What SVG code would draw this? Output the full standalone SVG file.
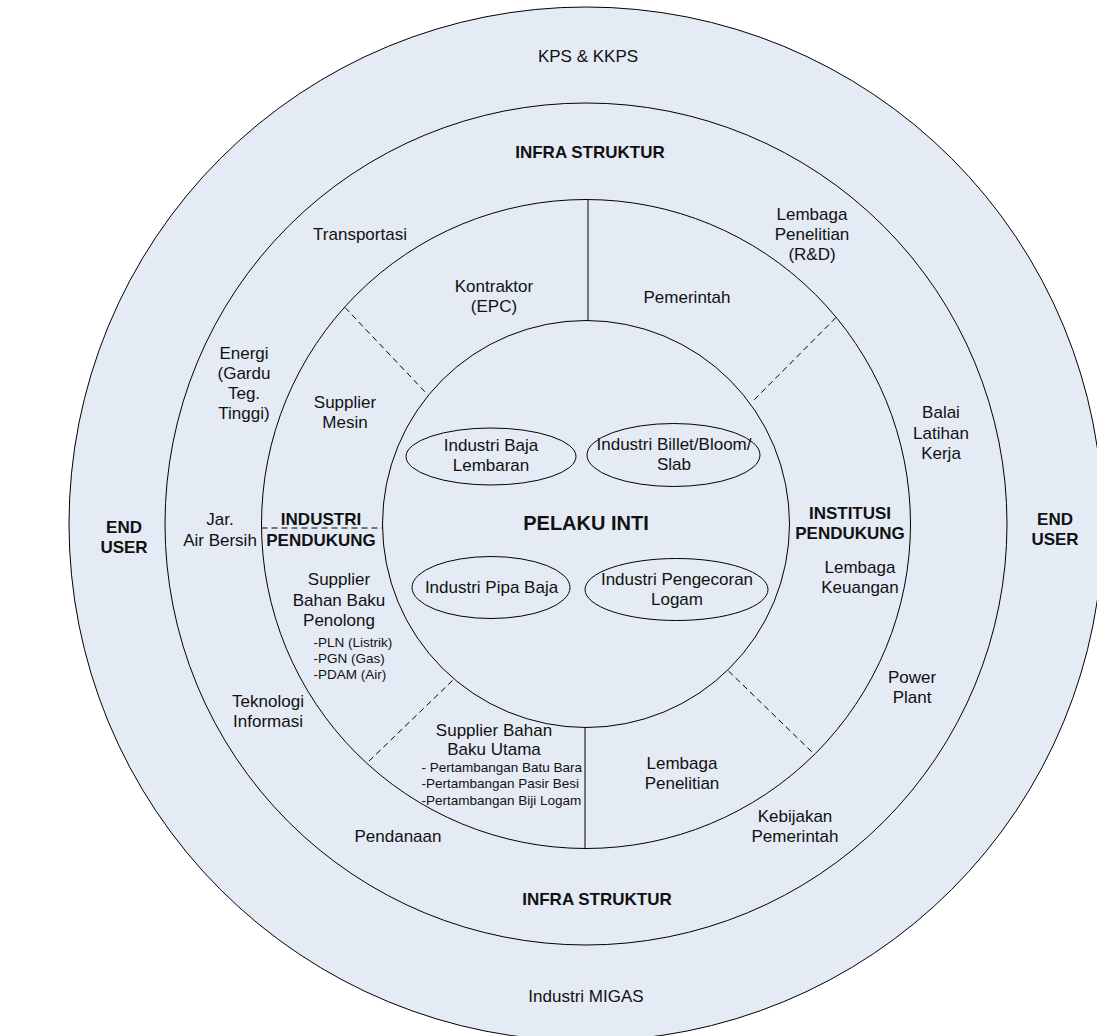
<svg xmlns="http://www.w3.org/2000/svg" width="1097" height="1036" viewBox="0 0 1097 1036">
<style>
  .ring { fill: #e5ebf5; stroke: #000; stroke-width: 1; }
  .ell { fill: none; stroke: #000; stroke-width: 1; }
  .solid { stroke: #000; stroke-width: 1; fill: none; }
  .dash { stroke: #000; stroke-width: 1; fill: none; stroke-dasharray: 6 4; }
  text { font-family: "Liberation Sans", Arial, sans-serif; font-size: 17px; fill: #111; text-anchor: middle; }
  .b { font-weight: bold; }
  .big { font-size: 20px; font-weight: bold; }
  .sm { font-size: 13.5px; text-anchor: start; }
</style>
<rect width="1097" height="1036" fill="#fff"/>

<g id="ring-end-user">
  <circle class="ring" cx="586" cy="524" r="517"/>
  <text x="588" y="62">KPS &amp; KKPS</text>
  <text x="586" y="1002">Industri MIGAS</text>
  <text class="b" x="124" y="533">END</text>
  <text class="b" x="124" y="553">USER</text>
  <text class="b" x="1055" y="525">END</text>
  <text class="b" x="1055" y="545">USER</text>
</g>

<g id="ring-infra-struktur">
  <circle class="ring" cx="586" cy="524" r="421"/>
  <text class="b" x="590" y="158">INFRA STRUKTUR</text>
  <text class="b" x="597" y="905">INFRA STRUKTUR</text>
  <text x="360" y="240">Transportasi</text>
  <text x="244" y="359">Energi</text>
  <text x="244" y="379">(Gardu</text>
  <text x="244" y="399">Teg.</text>
  <text x="244" y="419">Tinggi)</text>
  <text x="220" y="525">Jar.</text>
  <text x="220" y="546">Air Bersih</text>
  <text x="268" y="707">Teknologi</text>
  <text x="268" y="727">Informasi</text>
  <text x="398" y="842">Pendanaan</text>
  <text x="812" y="220">Lembaga</text>
  <text x="812" y="240">Penelitian</text>
  <text x="812" y="260">(R&amp;D)</text>
  <text x="941" y="418">Balai</text>
  <text x="941" y="438.5">Latihan</text>
  <text x="941" y="458.5">Kerja</text>
  <text x="912" y="683">Power</text>
  <text x="912" y="703">Plant</text>
  <text x="795" y="822">Kebijakan</text>
  <text x="795" y="842">Pemerintah</text>
</g>

<g id="ring-pendukung">
  <circle class="ring" cx="586" cy="524" r="324.5"/>
  <text x="494" y="291.5">Kontraktor</text>
  <text x="494" y="312">(EPC)</text>
  <text x="687" y="303">Pemerintah</text>
  <text x="345" y="408">Supplier</text>
  <text x="345" y="428">Mesin</text>
  <text class="b" x="321" y="525">INDUSTRI</text>
  <text class="b" x="321" y="546">PENDUKUNG</text>
  <text x="339" y="585">Supplier</text>
  <text x="339" y="606">Bahan Baku</text>
  <text x="339" y="626">Penolong</text>
  <text class="sm" x="313.5" y="647">-PLN (Listrik)</text>
  <text class="sm" x="313.5" y="663">-PGN (Gas)</text>
  <text class="sm" x="313.5" y="679">-PDAM (Air)</text>
  <text class="b" x="850" y="519">INSTITUSI</text>
  <text class="b" x="850" y="539">PENDUKUNG</text>
  <text x="860" y="573">Lembaga</text>
  <text x="860" y="592.5">Keuangan</text>
  <text x="494" y="736">Supplier Bahan</text>
  <text x="494" y="755">Baku Utama</text>
  <text class="sm" x="421.5" y="772">- Pertambangan Batu Bara</text>
  <text class="sm" x="421.5" y="788">-Pertambangan Pasir Besi</text>
  <text class="sm" x="421.5" y="804.5">-Pertambangan Biji Logam</text>
  <text x="682" y="769">Lembaga</text>
  <text x="682" y="789">Penelitian</text>
</g>

<g id="pelaku-inti">
  <circle class="ring" cx="586" cy="524" r="203.5"/>
  <text class="big" x="586" y="530">PELAKU INTI</text>
</g>

<g id="node-baja-lembaran">
  <ellipse class="ell" cx="491" cy="456.5" rx="85" ry="28.5"/>
  <text x="491" y="450.5">Industri Baja</text>
  <text x="491" y="471">Lembaran</text>
</g>
<g id="node-billet">
  <ellipse class="ell" cx="673.5" cy="455" rx="86.5" ry="31.5"/>
  <text x="674" y="450">Industri Billet/Bloom/</text>
  <text x="674" y="470">Slab</text>
</g>
<g id="node-pipa-baja">
  <ellipse class="ell" cx="491" cy="587.5" rx="79" ry="31"/>
  <text x="491.5" y="593">Industri Pipa Baja</text>
</g>
<g id="node-pengecoran">
  <ellipse class="ell" cx="676.5" cy="589.5" rx="91.5" ry="31"/>
  <text x="677" y="585">Industri Pengecoran</text>
  <text x="677" y="605">Logam</text>
</g>

<g id="connectors">
  <line class="solid" x1="588" y1="200" x2="588" y2="321"/>
  <line class="solid" x1="585" y1="728" x2="585" y2="848.5"/>
  <line class="dash" x1="345" y1="307.5" x2="427" y2="394"/>
  <line class="dash" x1="836" y1="317.5" x2="751.5" y2="402.5"/>
  <line class="dash" x1="452.5" y1="680.5" x2="366.5" y2="763.5"/>
  <line class="dash" x1="728.5" y1="671" x2="814" y2="754"/>
  <line class="dash" x1="261.5" y1="528" x2="382.5" y2="528"/>
</g>
</svg>
